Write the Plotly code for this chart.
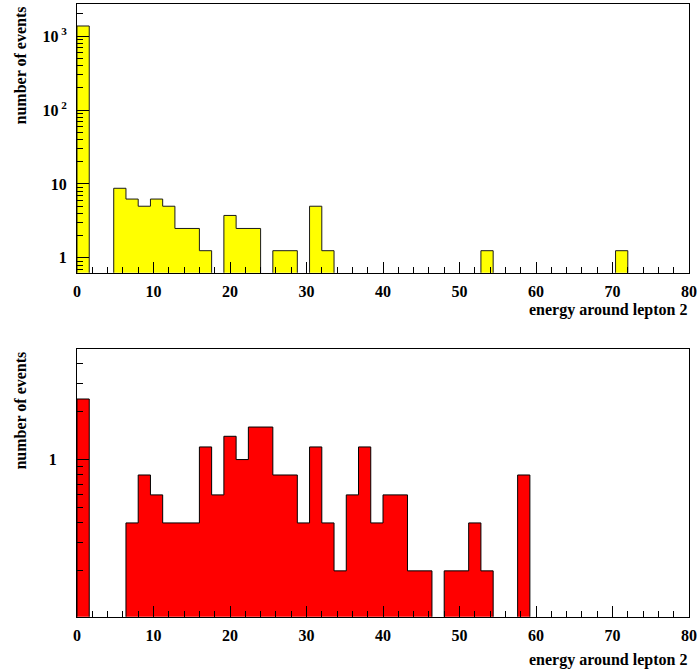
import numpy as np
import plotly.graph_objects as go

# ---------------- data ----------------
bin_edges = np.linspace(0, 80, 51)  # 50 bins of width 1.6

top_counts = [1375, 0, 0, 8.75, 6.25, 5, 6.25, 5, 2.5, 2.5,
              1.25, 0, 3.75, 2.5, 2.5, 0, 1.25, 1.25, 0, 5,
              1.25, 0, 0, 0, 0, 0, 0, 0, 0, 0,
              0, 0, 0, 1.25, 0, 0, 0, 0, 0, 0,
              0, 0, 0, 0, 1.25, 0, 0, 0, 0, 0]

bottom_counts = [2.4, 0, 0, 0, 0.4, 0.8, 0.6, 0.4, 0.4, 0.4,
                 1.2, 0.6, 1.4, 1.0, 1.6, 1.6, 0.8, 0.8, 0.4, 1.2,
                 0.4, 0.2, 0.6, 1.2, 0.4, 0.6, 0.6, 0.2, 0.2, 0,
                 0.2, 0.2, 0.4, 0.2, 0, 0, 0.8, 0, 0, 0,
                 0, 0, 0, 0, 0, 0, 0, 0, 0, 0]

x_tick_vals = [0, 10, 20, 30, 40, 50, 60, 70, 80]
x_tick_text = ["0", "10", "20", "30", "40", "50", "60", "70", "80"]
x_minor_vals = list(range(0, 81, 2))

top_y_tick_vals = [1, 10, 100, 1000]
top_y_tick_text = ["1", "10", "10<sup> 2</sup>", "10<sup> 3</sup>"]
top_y_minor_vals = [k * 10 ** n for n in range(-1, 4) for k in range(2, 10)]

bottom_y_tick_vals = [1]
bottom_y_tick_text = ["1"]
bottom_y_minor_vals = [0.2, 0.3, 0.4, 0.5, 0.6, 0.7, 0.8, 0.9, 2, 3, 4]

x_title = "energy around lepton 2"
y_title = "number of events"

FLOOR = 1e-4


def step_path(edges, vals, floor):
    xs = [edges[0]]
    ys = [floor]
    for i, v in enumerate(vals):
        h = v if v > 0 else floor
        xs += [edges[i], edges[i + 1]]
        ys += [h, h]
    xs.append(edges[-1])
    ys.append(floor)
    return xs, ys


FONT = "Liberation Serif"
W, H = 700, 671
ML, MR, MT, MB = 77, 9, 3, 54
PH = H - MT - MB


def py(pix):
    """pixel y (from top) -> paper coordinate"""
    return (H - MB - pix) / PH


fig = go.Figure()

tx, ty = step_path(bin_edges, top_counts, FLOOR)
fig.add_trace(go.Scatter(x=tx, y=ty, mode="lines", fill="toself",
                         fillcolor="#ffff00", line=dict(color="#1a1a1a", width=1),
                         xaxis="x", yaxis="y", hoverinfo="skip", showlegend=False))
bx, by = step_path(bin_edges, bottom_counts, FLOOR)
fig.add_trace(go.Scatter(x=bx, y=by, mode="lines", fill="toself",
                         fillcolor="#ff0000", line=dict(color="#000000", width=1),
                         xaxis="x2", yaxis="y2", hoverinfo="skip", showlegend=False))

tickfont = dict(family=FONT, size=16, color="black", weight="bold")

xcommon = dict(range=[0, 80], tickmode="array", tickvals=x_tick_vals, ticktext=x_tick_text,
               ticks="inside", ticklen=11, tickwidth=1, tickcolor="black",
               minor=dict(tickmode="array", tickvals=x_minor_vals, ticks="inside",
                          ticklen=5.5, tickwidth=1, tickcolor="black", showgrid=False),
               showline=True, linecolor="black", linewidth=1, mirror=True,
               showgrid=False, zeroline=False, tickfont=tickfont, ticklabelstandoff=4)

top_dom = [py(272.3), py(3.3)]
bot_dom = [py(616.7), py(349)]

fig.update_layout(
    width=W, height=H,
    margin=dict(l=ML, r=MR, t=MT, b=MB),
    paper_bgcolor="white", plot_bgcolor="white",
    xaxis=dict(domain=[0, 1], anchor="y", **xcommon),
    xaxis2=dict(domain=[0, 1], anchor="y2", **xcommon),
    yaxis=dict(domain=top_dom, anchor="x", type="log", range=[-0.203, 3.432],
               tickmode="array", tickvals=top_y_tick_vals, ticktext=top_y_tick_text,
               ticks="inside", ticklen=12, tickwidth=1, tickcolor="black",
               minor=dict(tickmode="array", tickvals=top_y_minor_vals, ticks="inside",
                          ticklen=6, tickwidth=1, tickcolor="black", showgrid=False),
               showline=True, linecolor="black", linewidth=1, mirror=True,
               showgrid=False, zeroline=False, tickfont=tickfont, ticklabelstandoff=6),
    yaxis2=dict(domain=bot_dom, anchor="x2", type="log", range=[-0.9868, 0.6915],
                tickmode="array", tickvals=bottom_y_tick_vals, ticktext=bottom_y_tick_text,
                ticks="inside", ticklen=12, tickwidth=1, tickcolor="black",
                minor=dict(tickmode="array", tickvals=bottom_y_minor_vals, ticks="inside",
                           ticklen=6, tickwidth=1, tickcolor="black", showgrid=False),
                showline=True, linecolor="black", linewidth=1, mirror=True,
                showgrid=False, zeroline=False, tickfont=tickfont, ticklabelstandoff=16),
)

titlefont = dict(family=FONT, size=16, color="black", weight="bold")
ann = [
    dict(text=x_title, xref="paper", yref="paper", x=1, y=py(309), xanchor="right",
         yanchor="middle", showarrow=False, font=titlefont),
    dict(text=x_title, xref="paper", yref="paper", x=1, y=py(660), xanchor="right",
         yanchor="middle", showarrow=False, font=titlefont),
    dict(text=y_title, xref="paper", yref="paper", x=(20 - ML) / (W - ML - MR), y=py(3.3),
         xanchor="center", yanchor="top", textangle=-90, showarrow=False, font=titlefont),
    dict(text=y_title, xref="paper", yref="paper", x=(20 - ML) / (W - ML - MR), y=py(349),
         xanchor="center", yanchor="top", textangle=-90, showarrow=False, font=titlefont),
]
fig.update_layout(annotations=ann)

fig.write_html(
    "out.html",
    config={"displayModeBar": False},
    post_script="document.body.style.margin='0px';document.body.style.overflow='hidden';",
)
